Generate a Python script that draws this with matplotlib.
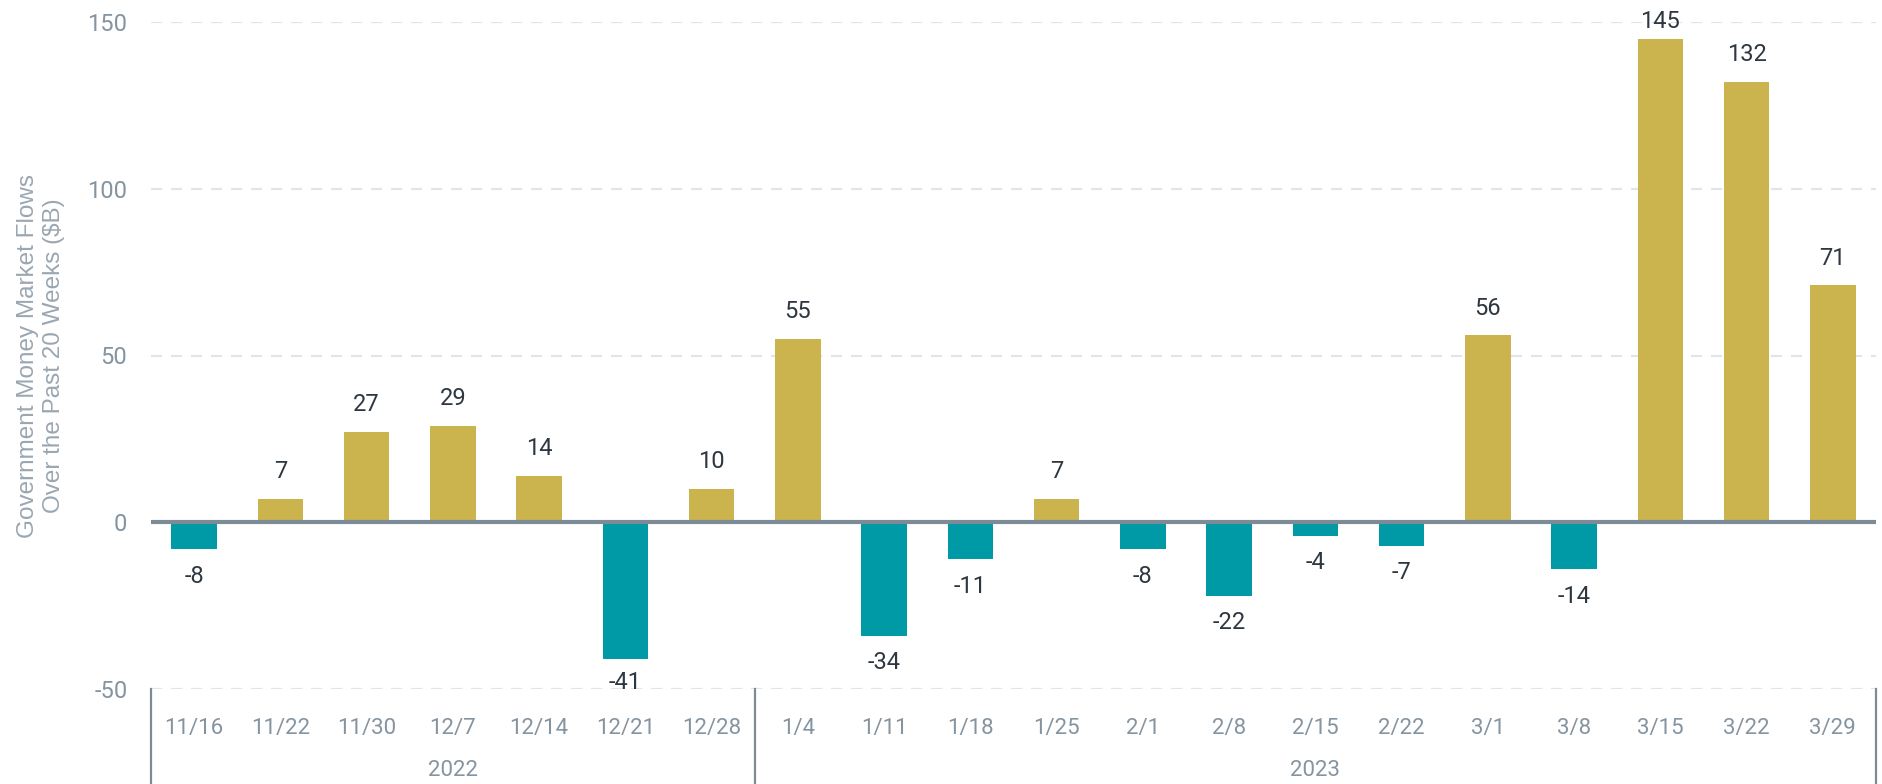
import matplotlib
matplotlib.use("Agg")
import matplotlib.pyplot as plt
import matplotlib.transforms as mtransforms
import numpy as np

plt.rcParams['font.family'] = ['Roboto', 'DejaVu Sans']
plt.rcParams['axes.unicode_minus'] = False

# data
weeks = ['11/16', '11/22', '11/30', '12/7', '12/14', '12/21', '12/28',
         '1/4', '1/11', '1/18', '1/25', '2/1', '2/8', '2/15', '2/22',
         '3/1', '3/8', '3/15', '3/22', '3/29']
flows = [-8, 7, 27, 29, 14, -41, 10, 55, -34, -11, 7, -8, -22, -4, -7,
         56, -14, 145, 132, 71]
years = ['2022', '2023']
year_counts = [7, 13]

gold = '#CBB44E'
teal = '#009AA6'
axis_gray = '#7D8B96'
tick_gray = '#8494A1'

fig = plt.figure(figsize=(18.83, 7.84), dpi=100)
ax = fig.add_axes([151/1883, 1-689/784, (1876-151)/1883, (689-22)/784])

x = np.arange(len(weeks))
vals = np.array(flows)
colors = [gold if v >= 0 else teal for v in vals]
ax.bar(x, vals, width=0.53, color=colors, zorder=2)

ax.set_xlim(-0.5, len(weeks)-0.5)
ax.set_ylim(-50, 150)
ax.set_yticks([-50, 0, 50, 100, 150])

# dashed grid, solid zero line
for yv in [-50, 50, 100, 150]:
    ax.axhline(yv, color='#E1E5E9', lw=1.6, ls=(0, (5, 4)), zorder=0)
ax.axhline(0, color=axis_gray, lw=3, zorder=3)

for s in ax.spines.values():
    s.set_visible(False)

ax.tick_params(axis='y', length=0, pad=17, labelsize=17, labelcolor=tick_gray)
ax.set_xticks(x)
ax.set_xticklabels(weeks)
ax.tick_params(axis='x', length=0, pad=21, labelsize=16, labelcolor=tick_gray)

# value labels
off = 8.2
for xi, v in zip(x, vals):
    if v >= 0:
        yl = min(v + off, 150)
    else:
        yl = max(v - off, -48)
    ax.text(xi, yl, f'{v}', ha='center', va='center', fontsize=17,
            color='#2E3740', zorder=4)

# year group separators and labels
trans = mtransforms.blended_transform_factory(ax.transData, ax.transAxes)
depth = -(784-689)/(689-22)
edges = np.concatenate([[0], np.cumsum(year_counts)]) - 0.5
for e in edges:
    ax.plot([e, e], [0, depth], color=axis_gray, lw=1.6, transform=trans,
            clip_on=False)
for i, yr in enumerate(years):
    xc = (edges[i] + edges[i+1]) / 2
    ax.text(xc, -(770-689)/(689-22), yr, transform=trans, ha='center',
            va='center', fontsize=16, color=tick_gray)

fig.text(41/1883, 1-356/784,
         'Government Money Market Flows\nOver the Past 20 Weeks ($B)',
         rotation=90, ha='center', va='center', fontsize=17.5,
         color='#9AA6B1', linespacing=1.2, family=['Liberation Sans', 'DejaVu Sans'])

fig.savefig('out.png', dpi=100)
